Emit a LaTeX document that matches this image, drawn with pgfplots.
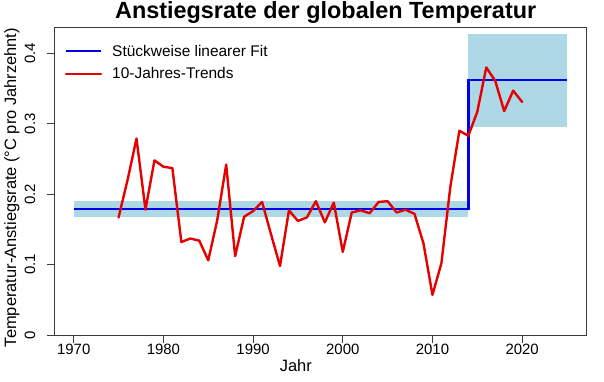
\documentclass[border=0pt]{standalone}
\usepackage{fontspec}
\setmainfont{Liberation Sans}
\usepackage{pgfplots}
\pgfplotsset{compat=1.18}
\definecolor{fitblue}{RGB}{0,0,235}
\definecolor{trendred}{RGB}{230,0,0}
\definecolor{bandblue}{RGB}{173,216,230}
\definecolor{axisgray}{RGB}{60,60,60}
\begin{document}
\begin{tikzpicture}
\begin{axis}[
  scale only axis,
  width=532.7bp, height=307.7bp,
  at={(54bp,47bp)}, anchor=south west,
  xmin=1967.8, xmax=2027.2, ymin=0, ymax=0.437,
  axis lines=box,
  axis line style={axisgray, line width=0.9bp},
  tick style={axisgray, line width=0.9bp},
  tick align=outside, major tick length=7.5bp,
  xtick={1970,1980,1990,2000,2010,2020},
  xticklabels={1970,1980,1990,2000,2010,2020},
  ytick={0,0.1,0.2,0.3,0.4},
  yticklabels={0,0.1,0.2,0.3,0.4},
  xtick pos=lower, ytick pos=lower,
  /pgf/number format/assume math mode=true,
  xticklabel style={font=\fontsize{15}{15}\selectfont, yshift=1.5bp},
  yticklabel style={font=\fontsize{15}{15}\selectfont, rotate=90, anchor=south, inner ysep=11bp},
  every axis title shift=0pt,
  title={Anstiegsrate der globalen Temperatur},
  title style={font=\bfseries\fontsize{23.5}{28}\selectfont, at={(rel axis cs:0.510,1.030)}, anchor=base, inner sep=0pt},
  xlabel={Jahr},
  xlabel style={font=\fontsize{16.5}{18}\selectfont, at={(rel axis cs:0.454,-0.119)}, anchor=base, inner sep=0pt},
  ylabel={Temperatur-Anstiegsrate (°C pro Jahrzehnt)},
  ylabel style={font=\fontsize{16.5}{18}\selectfont, at={(rel axis cs:-0.0713,0.479)}, anchor=base, inner sep=0pt},
  legend style={draw=none, fill=none, at={(rel axis cs:0.02,0.95)}, anchor=north west,
    font=\fontsize{15.5}{18}\selectfont, row sep=6bp, column sep=8bp, inner sep=0pt},
  legend cell align=left,
  legend image code/.code={\draw[#1] (0bp,0bp) -- (35bp,0bp);},
  clip=false,
]
\addplot[fill=bandblue, draw=none, forget plot] coordinates {(1970,0.167) (2014,0.167) (2014,0.190) (1970,0.190)} -- cycle;
\addplot[fill=bandblue, draw=none, forget plot] coordinates {(2014,0.296) (2025,0.296) (2025,0.4276) (2014,0.4276)} -- cycle;
\addplot[fitblue, line width=2.4bp, line join=miter] coordinates {(1970,0.179) (2014,0.179) (2014,0.362) (2025,0.362)};
\addlegendentry{Stückweise linearer Fit}
\addplot[trendred, line width=2.4bp, line join=round, line cap=round] coordinates {
(1975,0.167) (1976,0.220) (1977,0.279) (1978,0.178) (1979,0.248) (1980,0.239)
(1981,0.237) (1982,0.132) (1983,0.137) (1984,0.134) (1985,0.106) (1986,0.163)
(1987,0.242) (1988,0.112) (1989,0.168) (1990,0.176) (1991,0.189) (1992,0.143)
(1993,0.098) (1994,0.177) (1995,0.162) (1996,0.167) (1997,0.190) (1998,0.160)
(1999,0.188) (2000,0.118) (2001,0.174) (2002,0.177) (2003,0.173) (2004,0.189)
(2005,0.190) (2006,0.174) (2007,0.178) (2008,0.172) (2009,0.130) (2010,0.057)
(2011,0.102) (2012,0.211) (2013,0.290) (2014,0.283) (2015,0.317) (2016,0.380)
(2017,0.361) (2018,0.318) (2019,0.347) (2020,0.331)};
\addlegendentry{10-Jahres-Trends}
\end{axis}
\pgfresetboundingbox
\path[use as bounding box] (0bp,0bp) rectangle (604bp,382bp);
\end{tikzpicture}
\end{document}
